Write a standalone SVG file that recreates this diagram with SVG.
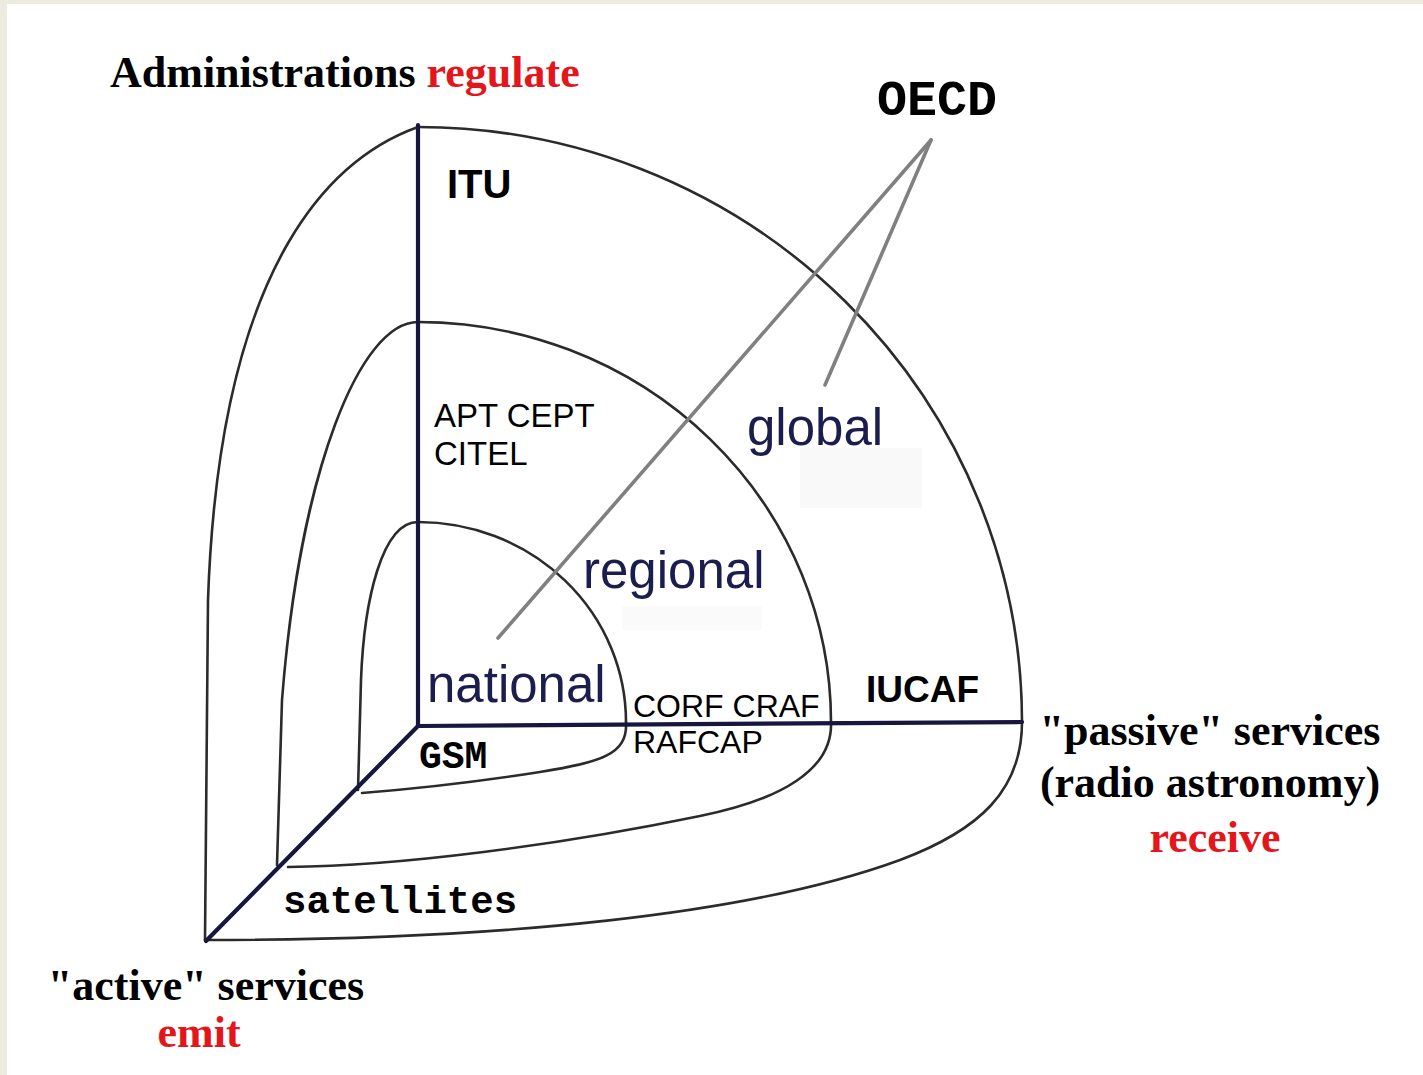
<svg xmlns="http://www.w3.org/2000/svg" width="1423" height="1075" viewBox="0 0 1423 1075">
<style>
.shell{fill:none;stroke:#2b2b2b;stroke-width:2.6;stroke-linecap:round;stroke-linejoin:round}
.axis{fill:none;stroke:#16163e;stroke-width:4.2;stroke-linecap:round}
.link{fill:none;stroke:#808080;stroke-width:3.6;stroke-linecap:round}
.serif{font-family:"Liberation Serif","Times New Roman",serif;font-weight:bold;font-size:44px;fill:#000}
.red{fill:#e3161b}
.sans{font-family:"Liberation Sans",Arial,sans-serif;fill:#000}
.scope{font-family:"Liberation Sans",Arial,sans-serif;font-size:51px;fill:#1b1d4f}
.mono{font-family:"Liberation Mono","Courier New",monospace;font-weight:bold;fill:#000}
</style>
<rect x="0" y="0" width="1423" height="1075" fill="#edeadf"/>
<rect x="7" y="4" width="1416" height="1071" fill="#ffffff"/>
<rect x="800" y="448" width="122" height="60" fill="#f9f9f9"/>
<rect x="622" y="606" width="140" height="24" fill="#fafafa"/>

<g id="shell-global">
<path class="shell" d="M418,127 A604,595 0 0 1 1022,722"/>
<path class="shell" d="M418,127 C340,155 220,250 208,600 L205,940"/>
<path class="shell" d="M1022,722 C1022,790 980,830 900,860 C750,915 500,940 205,940"/>
</g>
<g id="shell-regional">
<path class="shell" d="M418,322 A413,400 0 0 1 831,722"/>
<path class="shell" d="M418,322 C360,322 300,470 282,700 L277,865"/>
<path class="shell" d="M831,722 C833,770 780,800 700,816 C560,845 400,866 288,867"/>
</g>
<g id="shell-national">
<path class="shell" d="M418,522 A208,200 0 0 1 626,722"/>
<path class="shell" d="M418,522 C382,522 364,600 361,680 L358,790"/>
<path class="shell" d="M626,722 C628,755 600,762 540,772 C470,783 400,790 362,793"/>
</g>
<g id="axes">
<line class="axis" x1="418" y1="125" x2="418" y2="726"/>
<line class="axis" x1="418" y1="726" x2="1022" y2="722"/>
<line class="axis" x1="418" y1="726" x2="206" y2="941"/>
</g>

<g id="connectors">
<line class="link" x1="931" y1="140" x2="498" y2="638"/>
<line class="link" x1="931" y1="140" x2="825" y2="385"/>
</g>

<g id="title-regulate"><text class="serif" x="110" y="87">Administrations <tspan class="red">regulate</tspan></text></g>
<g id="oecd"><text class="mono" x="877" y="115" font-size="50">OECD</text></g>
<g id="itu"><text class="sans" x="447" y="198" font-size="40" font-weight="bold">ITU</text></g>
<g id="apt"><text class="sans" x="434" y="427" font-size="33">APT CEPT</text><text class="sans" x="434" y="465" font-size="33">CITEL</text></g>
<g id="global"><text class="scope" x="747" y="445">global</text></g>
<g id="regional"><text class="scope" x="583" y="588">regional</text></g>
<g id="national"><text class="scope" x="427" y="702">national</text></g>
<g id="corf"><text class="sans" x="633" y="717" font-size="32">CORF CRAF</text><text class="sans" x="633" y="753" font-size="32">RAFCAP</text></g>
<g id="iucaf"><text class="sans" x="866" y="702" font-size="37" font-weight="bold">IUCAF</text></g>
<g id="gsm"><text class="mono" x="419" y="768" font-size="38">GSM</text></g>
<g id="satellites"><text class="mono" x="283" y="913" font-size="39">satellites</text></g>
<g id="passive"><text class="serif" x="1210" y="745" text-anchor="middle">"passive" services</text><text class="serif" x="1210" y="797" text-anchor="middle">(radio astronomy)</text><text class="serif red" x="1215" y="852" text-anchor="middle">receive</text></g>
<g id="active"><text class="serif" x="206" y="1000" text-anchor="middle">"active" services</text><text class="serif red" x="199" y="1047" text-anchor="middle">emit</text></g>
</svg>
